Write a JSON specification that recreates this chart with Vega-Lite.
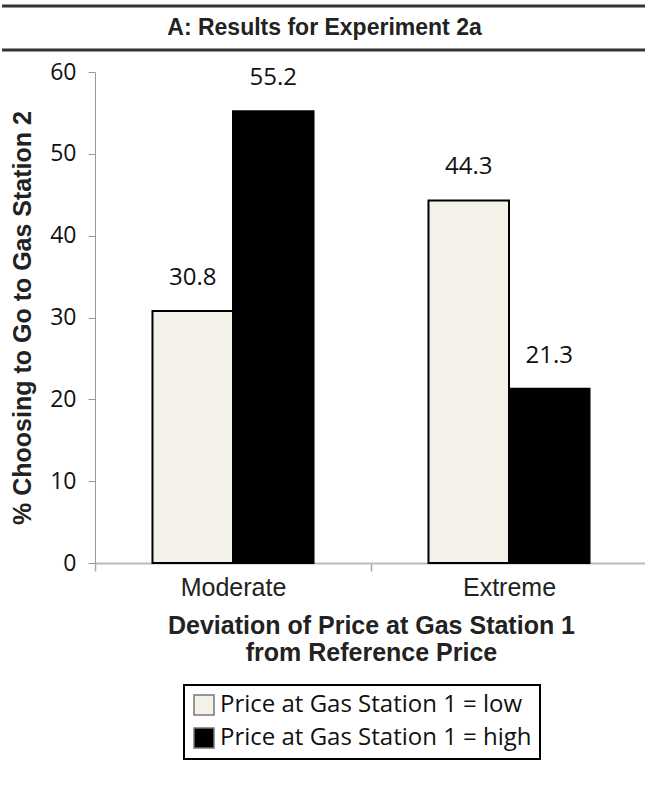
{
  "$schema": "https://vega.github.io/schema/vega-lite/v6.json",
  "padding": {"left": 0, "top": 4, "right": 0, "bottom": 0},
  "background": "white",
  "spacing": 9,
  "config": {
    "view": {"stroke": null},
    "legend": {"strokeWidth": 2}
  },
  "vconcat": [
    {
      "width": 645,
      "height": 44,
      "layer": [
        {
          "data": {"values": [{"edge": "top"}, {"edge": "bottom"}]},
          "mark": {"type": "rule", "color": "#333333", "strokeWidth": 3},
          "encoding": {
            "y": {"field": "edge", "type": "nominal", "sort": ["top", "bottom"], "scale": {"type": "point", "padding": 0}, "axis": null}
          }
        },
        {
          "data": {"values": [{"title": "A: Results for Experiment 2a"}]},
          "mark": {"type": "text", "font": "Liberation Sans", "fontWeight": "bold", "fontSize": 23, "color": "#222222", "baseline": "middle", "align": "center"},
          "encoding": {"text": {"field": "title", "type": "nominal"}}
        }
      ]
    },
    {
      "width": 645,
      "height": 491,
      "data": {
        "values": [
          {"deviation": "Moderate", "price": "Price at Gas Station 1 = low", "pct": 30.8},
          {"deviation": "Moderate", "price": "Price at Gas Station 1 = high", "pct": 55.2},
          {"deviation": "Extreme", "price": "Price at Gas Station 1 = low", "pct": 44.3},
          {"deviation": "Extreme", "price": "Price at Gas Station 1 = high", "pct": 21.3}
        ]
      },
      "encoding": {
        "x": {
          "field": "deviation", "type": "nominal", "sort": ["Moderate", "Extreme"],
          "scale": {"paddingInner": 0, "paddingOuter": 0, "range": [93, 645]},
          "axis": {
            "title": ["Deviation of Price at Gas Station 1", "from Reference Price"],
            "titleFont": "Liberation Sans", "titleFontWeight": "bold", "titleFontSize": 25, "titleColor": "#222222",
            "titleLineHeight": 27, "titlePadding": 13,
            "labelFont": "Liberation Sans", "labelFontSize": 25, "labelColor": "#222222", "labelAngle": 0, "labelPadding": 4,
            "tickBand": "extent", "tickSize": 8, "tickColor": "#aaaaaa", "tickWidth": 1.5,
            "domainColor": "#bbbbbb", "domainWidth": 2
          }
        },
        "xOffset": {
          "field": "price", "type": "nominal",
          "sort": ["Price at Gas Station 1 = low", "Price at Gas Station 1 = high"],
          "scale": {"paddingInner": 0, "paddingOuter": 0.714}
        },
        "y": {
          "field": "pct", "type": "quantitative",
          "scale": {"domain": [0, 60], "nice": false},
          "axis": {
            "offset": -93,
            "title": "% Choosing to Go to Gas Station 2",
            "titleFont": "Liberation Sans", "titleFontWeight": "bold", "titleFontSize": 25, "titleColor": "#222222",
            "titlePadding": 14,
            "values": [0, 10, 20, 30, 40, 50, 60],
            "labelFont": "Open Sans", "labelFontSize": 23, "labelColor": "#111111", "labelPadding": 12,
            "tickSize": 7, "tickColor": "#999999", "domainColor": "#999999", "grid": false
          }
        }
      },
      "layer": [
        {
          "mark": {"type": "bar", "stroke": "#000000", "strokeWidth": 2},
          "encoding": {
            "color": {
              "field": "price", "type": "nominal",
              "sort": ["Price at Gas Station 1 = low", "Price at Gas Station 1 = high"],
              "scale": {"range": ["#f4f1e9", "#000000"]},
              "legend": {
                "title": null, "orient": "none", "legendX": 182, "legendY": 679, "direction": "vertical",
                "strokeColor": "#000000", "padding": 8, "rowPadding": 7,
                "symbolType": "square", "symbolSize": 400, "symbolStrokeColor": "#777777", "symbolStrokeWidth": 1.5,
                "labelFont": "Open Sans", "labelFontSize": 24, "labelColor": "#111111", "labelLimit": 0, "labelOffset": 4
              }
            }
          }
        },
        {
          "mark": {"type": "text", "font": "Open Sans", "fontSize": 24, "color": "#111111", "baseline": "middle", "dy": -33},
          "encoding": {"text": {"field": "pct", "type": "quantitative", "format": ".1f"}}
        }
      ]
    }
  ]
}
